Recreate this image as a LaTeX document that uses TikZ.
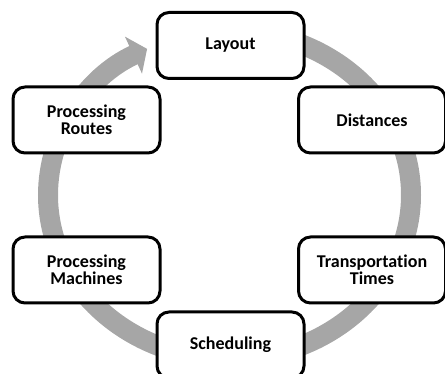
\documentclass[tikz,border=0pt]{standalone}
\usepackage{fontspec}
\setmainfont[Ligatures=NoCommon]{Carlito}
\usetikzlibrary{arrows.meta}

\begin{document}
\begin{tikzpicture}[x=1pt, y=1pt,
    stage/.style={draw, fill=white, line width=3pt, rounded corners=12pt,
        minimum width=147pt, minimum height=66pt, align=center,
        font=\fontsize{18}{17}\selectfont\bfseries},
    ring/.style={draw=black!35, line width=20pt,
        -{Triangle[length=15pt, width=40pt]}}]
    \useasboundingbox (0,0) rectangle (445,374);

    % grey cycle behind the boxes
    \coordinate (c) at (229.5,179);
    \draw[ring] ([shift={(90:181.5 and 164)}]c)
        arc[start angle=90, end angle=-243, x radius=181.5pt, y radius=164pt];

    \node[stage] (layout)   at (230.5,328.5) {Layout};
    \node[stage] (dist)     at (372,254)     {Distances};
    \node[stage] (trans)    at (372,104)     {Transportation\\Times};
    \node[stage] (sched)    at (230.5,29)    {Scheduling};
    \node[stage] (machines) at (86.5,104)    {Processing\\Machines};
    \node[stage] (routes)   at (86.5,254)    {Processing\\Routes};
\end{tikzpicture}
\end{document}
